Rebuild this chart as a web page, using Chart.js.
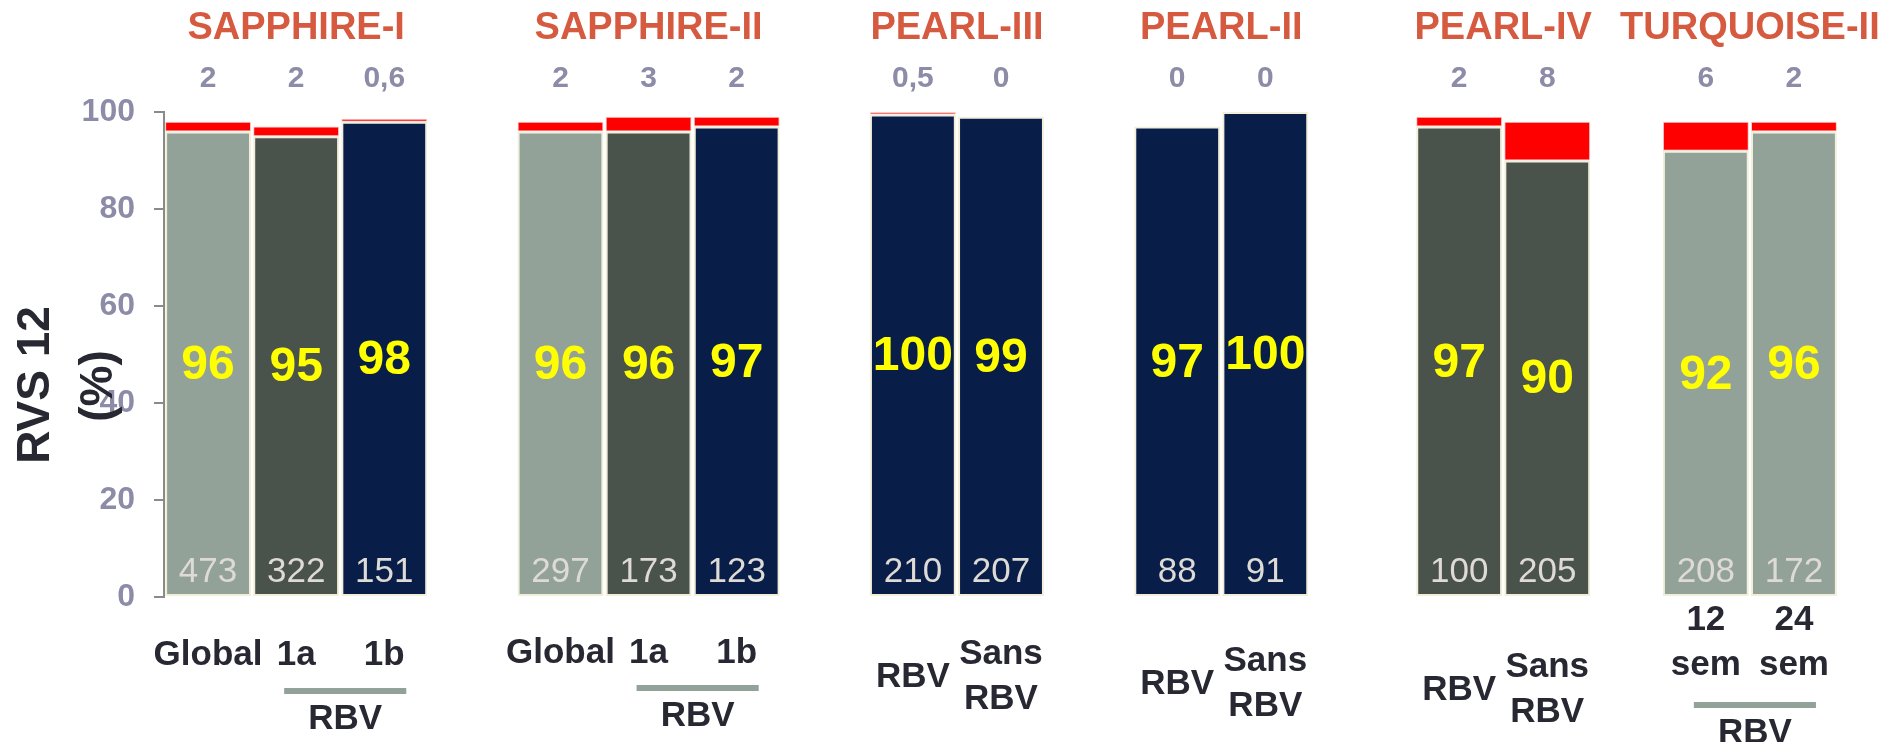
<!DOCTYPE html>
<html lang="fr">
<head>
<meta charset="utf-8">
<title>RVS 12</title>
<script src="https://cdn.jsdelivr.net/npm/chart.js@4.4.1/dist/chart.umd.min.js"></script>
<style>
    html, body { margin: 0; padding: 0; background: #fff; }
    canvas { display: block; }
</style>
</head>
<body>
<canvas id="graficoRvs" width="1886" height="742"></canvas>
<script>
// Données
const etudes = ['SAPPHIRE-I', 'SAPPHIRE-II', 'PEARL-III', 'PEARL-II', 'PEARL-IV', 'TURQUOISE-II'];
const barresParEtude = [3, 3, 2, 2, 2, 2];
const categories = [
    ['Global'], ['1a'], ['1b'],
    ['Global'], ['1a'], ['1b'],
    ['RBV'], ['Sans', 'RBV'],
    ['RBV'], ['Sans', 'RBV'],
    ['RBV'], ['Sans', 'RBV'],
    ['12', 'sem'], ['24', 'sem']
];
const rvs12 = [96, 95, 98, 96, 96, 97, 99.5, 99, 97, 100, 97, 90, 92, 96];
const echecs = [2, 2, 0.6, 2, 3, 2, 0.5, 0, 0, 0, 2, 8, 6, 2];
const effectifs = [473, 322, 151, 297, 173, 123, 210, 207, 88, 91, 100, 205, 208, 172];
const yTicks = [0, 20, 40, 60, 80, 100];
// sous-groupes soulignés "RBV" : [étude, première barre, dernière barre]
const accolades = [[0, 1, 2], [1, 1, 2], [5, 0, 1]];

// styles / mise en page
const couleurBarre = ['clair', 'fonce', 'marine', 'clair', 'fonce', 'marine',
    'marine', 'marine', 'marine', 'marine', 'fonce', 'fonce', 'clair', 'clair'];
const palette = { clair: '#93a298', fonce: '#4a524c', marine: '#081e48' };
const espacesEntreEtudes = [1, 1, 1, 1.2, 0.8];   // vide entre deux études, en largeurs de barre
const decalLibelles = [58, 56, 57, 64, 70, 23];   // px sous l'axe, par étude
const decalAccolade = [94, 91, 0, 0, 0, 108];
const POLICE = "'Liberation Sans', Arial, sans-serif";

// position de chaque barre sur l'axe X (une unité par barre + vides)
const positions = [];
const etudeDeBarre = [];
let pos = 0;
let k = 0;
etudes.forEach(function (e, g) {
    if (g > 0) pos += espacesEntreEtudes[g - 1];
    for (let j = 0; j < barresParEtude[g]; j++) {
        etudeDeBarre[k] = g;
        positions[k++] = pos;
        pos += 1;
    }
});

function formatFr(v) {
    return String(v).replace('.', ',');
}

const textesPlugin = {
    id: 'textes',
    afterDraw(chart) {
        const ctx = chart.ctx;
        const area = chart.chartArea;
        const xs = chart.scales.x;
        const barres = chart.getDatasetMeta(0).data;
        const centres = positions.map(function (p) { return xs.getPixelForValue(p); });

        ctx.save();
        ctx.textAlign = 'center';
        ctx.textBaseline = 'middle';

        // titres des études
        let debut = 0;
        etudes.forEach(function (e, g) {
            const fin = debut + barresParEtude[g] - 1;
            ctx.font = 'bold 38px ' + POLICE;
            ctx.fillStyle = '#d65a40';
            ctx.fillText(e, (centres[debut] + centres[fin]) / 2, 29);
            debut = fin + 1;
        });

        for (let b = 0; b < rvs12.length; b++) {
            const cx = centres[b];
            const bar = barres[b];

            // % échec au-dessus
            ctx.font = 'bold 30px ' + POLICE;
            ctx.fillStyle = '#8c8ba8';
            ctx.fillText(formatFr(echecs[b]), cx, 79);

            // RVS 12 dans la barre
            ctx.font = 'bold 48px ' + POLICE;
            ctx.fillStyle = '#ffff00';
            ctx.fillText(String(Math.round(rvs12[b])), cx, (bar.y + bar.base) / 2 + 2);

            // effectifs
            ctx.font = '35px ' + POLICE;
            ctx.fillStyle = '#dedad6';
            ctx.fillText(String(effectifs[b]), cx, area.bottom - 25);

            // libellés sous l'axe
            const g = etudeDeBarre[b];
            const lignes = categories[b];
            let haut = area.bottom + decalLibelles[g];
            if (lignes.length === 1 && g >= 2 && g <= 4) haut += 23;
            ctx.font = 'bold 35px ' + POLICE;
            ctx.fillStyle = '#282833';
            lignes.forEach(function (l, n) {
                ctx.fillText(l, cx, haut + n * 45);
            });
        }

        // soulignés RBV
        accolades.forEach(function (a) {
            let premier = 0;
            for (let g = 0; g < a[0]; g++) premier += barresParEtude[g];
            const x1 = centres[premier + a[1]] - 12;
            const x2 = centres[premier + a[2]] + 22;
            const y = area.bottom + decalAccolade[a[0]];
            ctx.fillStyle = '#93a298';
            ctx.fillRect(x1, y - 3, x2 - x1, 6);
            ctx.font = 'bold 35px ' + POLICE;
            ctx.fillStyle = '#282833';
            ctx.fillText('RBV', (x1 + x2) / 2, y + 28);
        });

        // titre de l'axe Y
        ctx.font = 'bold 46px ' + POLICE;
        ctx.fillStyle = '#282833';
        ctx.save();
        ctx.translate(36, 385);
        ctx.rotate(-Math.PI / 2);
        ctx.fillText('RVS 12', 0, 0);
        ctx.restore();
        ctx.save();
        ctx.translate(99, 386);
        ctx.rotate(-Math.PI / 2);
        ctx.fillText('(%)', 0, 0);
        ctx.restore();

        ctx.restore();
    }
};

const ctx = document.getElementById('graficoRvs').getContext('2d');
new Chart(ctx, {
    type: 'bar',
    data: {
        datasets: [{
            label: 'RVS 12',
            data: rvs12.map(function (v, i) { return { x: positions[i], y: v }; }),
            backgroundColor: couleurBarre.map(function (c) { return palette[c]; }),
            borderColor: '#f2efd9',
            borderWidth: 2,
            borderSkipped: false,
            barPercentage: 0.975,
            categoryPercentage: 1
        }, {
            label: 'Échec',
            data: echecs.map(function (v, i) { return { x: positions[i], y: v }; }),
            backgroundColor: '#ff0000',
            borderColor: '#f9c8c8',
            borderWidth: 1,
            borderSkipped: false,
            barPercentage: 0.975,
            categoryPercentage: 1
        }]
    },
    options: {
        responsive: false,
        animation: false,
        layout: {
            padding: { top: 112, right: 48, bottom: 145, left: 0 }
        },
        plugins: {
            legend: { display: false },
            tooltip: { enabled: false }
        },
        scales: {
            x: {
                type: 'linear',
                stacked: true,
                display: false,
                offset: false,
                min: positions[0] - 0.5,
                max: positions[positions.length - 1] + 0.5,
                afterBuildTicks: function (scale) {
                    scale.ticks = positions.map(function (p) { return { value: p }; });
                }
            },
            y: {
                stacked: true,
                min: 0,
                max: 100,
                afterFit: function (scale) { scale.width = 164; },
                afterBuildTicks: function (scale) {
                    scale.ticks = yTicks.map(function (v) { return { value: v }; });
                },
                grid: {
                    drawOnChartArea: false,
                    drawTicks: true,
                    tickLength: 10,
                    color: '#8a8a8a',
                    lineWidth: 2
                },
                border: { display: true, color: '#8a8a8a', width: 2 },
                ticks: {
                    padding: 19,
                    color: '#8c8ba8',
                    font: { family: POLICE, size: 32, weight: 'bold' }
                }
            }
        }
    },
    plugins: [textesPlugin]
});
</script>
</body>
</html>
